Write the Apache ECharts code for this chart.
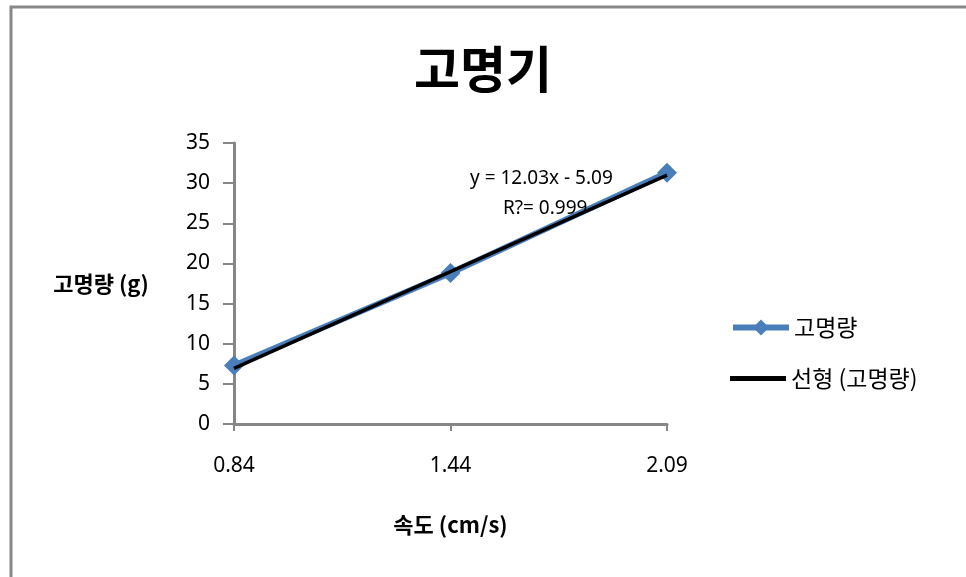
<!DOCTYPE html>
<html>
<head>
<meta charset="utf-8">
<script src="https://cdn.jsdelivr.net/npm/echarts@6/dist/echarts.min.js"></script>
<style>
  html, body { margin: 0; padding: 0; background: #fff; }
  #chart { width: 966px; height: 577px; }
</style>
</head>
<body>
<div id="chart"></div>
<script>
// Speed categories (cm/s) and measured amounts (g)
const speeds = ['0.84', '1.44', '2.09'];
const amounts = [7.3, 18.8, 31.3];
// Linear trend fitted over the category index (1, 2, 3)
const trendSlope = 12.03;
const trendIntercept = -5.09;
const trendR2 = '0.999';
const yTicks = { min: 0, max: 35, step: 5 };

const trendValues = speeds.map((_, i) => +(trendSlope * (i + 1) + trendIntercept).toFixed(2));

const numFont = '"Noto Sans", "Noto Sans CJK KR", sans-serif';
const krFont = '"Noto Sans CJK KR", sans-serif';
const axisGray = '#868686';
const blue = '#4a7ebb';

const chart = echarts.init(document.getElementById('chart'), null, { renderer: 'canvas' });
chart.setOption({
  animation: false,
  backgroundColor: '#fff',
  title: {
    text: '고명기',
    left: 'center',
    top: 39,
    textStyle: { fontFamily: krFont, fontSize: 50, fontWeight: 'bold', color: '#000' }
  },
  grid: { left: 234, right: 299, top: 143, bottom: 153, containLabel: false },
  xAxis: {
    type: 'category',
    data: speeds,
    boundaryGap: false,
    name: '속도 (cm/s)',
    nameLocation: 'middle',
    nameGap: 90,
    nameTextStyle: { fontFamily: krFont, fontSize: 22, fontWeight: 'bold', color: '#000' },
    axisLine: { lineStyle: { color: axisGray, width: 3 } },
    axisTick: { show: true, length: 7, alignWithLabel: true, lineStyle: { color: axisGray, width: 2 } },
    axisLabel: { margin: 32, fontFamily: numFont, fontSize: 21, color: '#000' },
    splitLine: { show: false }
  },
  yAxis: {
    type: 'value',
    min: yTicks.min,
    max: yTicks.max,
    interval: yTicks.step,
    name: '고명량 (g)',
    nameLocation: 'middle',
    nameRotate: 0,
    nameGap: 133,
    nameTextStyle: { fontFamily: krFont, fontSize: 22, fontWeight: 'bold', color: '#000', align: 'center' },
    axisLine: { show: true, lineStyle: { color: axisGray, width: 3 } },
    axisTick: { show: true, length: 11, lineStyle: { color: axisGray, width: 2 } },
    axisLabel: { margin: 24, fontFamily: numFont, fontSize: 21, color: '#000' },
    splitLine: { show: false }
  },
  legend: [
    {
      orient: 'vertical',
      left: 725,
      top: 311,
      itemWidth: 56,
      itemHeight: 20,
      textStyle: { fontFamily: krFont, fontSize: 23, color: '#000' },
      lineStyle: { width: 6 },
      data: ['고명량']
    },
    {
      orient: 'vertical',
      left: 725,
      top: 362,
      itemWidth: 56,
      itemHeight: 5,
      icon: 'rect',
      textStyle: { fontFamily: krFont, fontSize: 23, color: '#000' },
      data: ['선형 (고명량)']
    }
  ],
  series: [
    {
      name: '고명량',
      type: 'line',
      data: amounts,
      symbol: 'diamond',
      symbolSize: 20,
      lineStyle: { color: blue, width: 6 },
      itemStyle: { color: blue },
      z: 2
    },
    {
      name: '선형 (고명량)',
      type: 'line',
      data: trendValues,
      symbol: 'none',
      lineStyle: { color: '#000', width: 3.5 },
      itemStyle: { color: '#000' },
      z: 3
    }
  ],
  graphic: [
    {
      type: 'rect',
      shape: { x: 11, y: 7, width: 1000, height: 620 },
      style: { fill: 'none', stroke: '#888', lineWidth: 3 },
      silent: true,
      z: -1
    },
    {
      type: 'text',
      left: 470,
      top: 169,
      style: {
        text: 'y = ' + trendSlope + 'x - ' + Math.abs(trendIntercept).toFixed(2),
        font: '19px ' + numFont,
        fill: '#000'
      },
      z: 10
    },
    {
      type: 'text',
      left: 503,
      top: 199,
      style: {
        text: 'R?= ' + trendR2,
        font: '19px ' + numFont,
        fill: '#000'
      },
      z: 10
    }
  ]
});
</script>
</body>
</html>
